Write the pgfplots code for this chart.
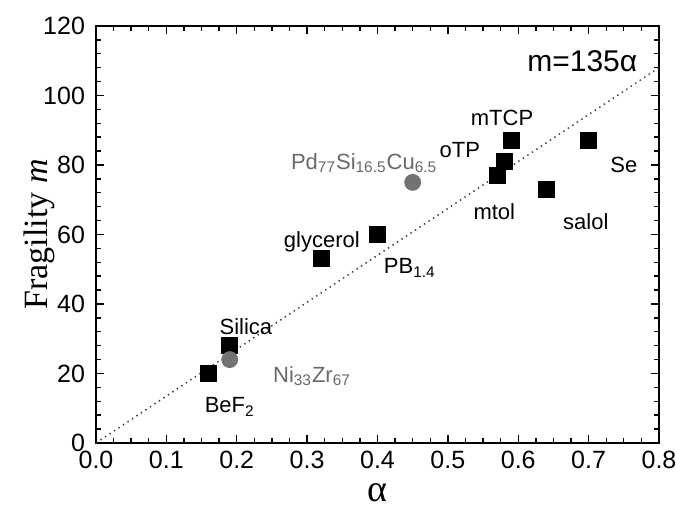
\documentclass[border=0pt]{standalone}
\usepackage{fontspec}
\setmainfont{Liberation Sans}
\newfontfamily\serif{Liberation Serif}
\usepackage{pgfplots}
\pgfplotsset{compat=1.18}

\definecolor{alloy}{RGB}{115,115,115}
\definecolor{alloytext}{RGB}{105,105,105}

\begin{document}
\begin{tikzpicture}
\path[use as bounding box] (-48pt,-32.5pt) rectangle (290.5pt,221.5pt);
\begin{axis}[
    scale only axis,
    width=281.5pt, height=208.5pt,
    xmin=0, xmax=0.8, ymin=0, ymax=120,
    xtick={0,0.1,...,0.8}, ytick={0,20,...,120},
    minor x tick num=3, minor y tick num=4,
    xticklabel style={yshift=-3pt, inner sep=1pt},
    x tick label style={/pgf/number format/fixed, /pgf/number format/fixed zerofill, /pgf/number format/precision=1},
    yticklabel style={xshift=-2pt},
    tick align=inside, tick pos=both,
    major tick length=4pt, minor tick length=2.5pt,
    axis line style={line width=0.8pt},
    every tick/.style={black, line width=0.7pt},
    tick label style={font=\fontsize{12.5}{14}\selectfont},
    /pgf/number format/assume math mode=true,
    ylabel={\serif\fontsize{17}{20}\selectfont Fragility \textit{m}},
    every axis y label/.style={at={(axis description cs:-0.1,0.5)}, anchor=center, rotate=90},
    clip=false,
]
% fit line m = 135 alpha
\addplot[dotted, line width=0.7pt, black!80] coordinates {(0,0) (0.8,108)};

% molecular and network glass formers
\addplot[only marks, mark=square*, mark size=4pt, black] coordinates {
    (0.16,20) (0.19,28) (0.32,53) (0.40,60) (0.57,77) (0.58,81)
    (0.59,87) (0.64,73) (0.70,87)
};

% metallic glasses
\addplot[only marks, mark=*, mark size=4pt, draw=alloy, fill=alloy] coordinates {
    (0.19,24) (0.45,75)
};

\begin{scope}[every node/.style={font=\fontsize{11}{13}\selectfont}]
\node at (axis cs:0.213,33.4) {Silica};
\node at (axis cs:0.190,10.4) {BeF\textsubscript{2}};
\node[text=alloytext] at (axis cs:0.307,19.3) {Ni\textsubscript{33}Zr\textsubscript{67}};
\node at (axis cs:0.321,57.8) {glycerol};
\node at (axis cs:0.446,50.4) {PB\textsubscript{1.4}};
\node[text=alloytext] at (axis cs:0.381,80.6) {Pd\textsubscript{77}Si\textsubscript{16.5}Cu\textsubscript{6.5}};
\node at (axis cs:0.517,84.3) {oTP};
\node at (axis cs:0.577,93.5) {mTCP};
\node at (axis cs:0.566,66.5) {mtol};
\node at (axis cs:0.696,63.6) {salol};
\node at (axis cs:0.750,80) {Se};
\end{scope}
\node[font=\fontsize{15}{17}\selectfont] at (axis cs:0.691,110) {m=135α};
% x axis label
\node[font=\serif\fontsize{19}{21}\selectfont, inner sep=0pt] at (axis description cs:0.5,-0.12) {α};
\end{axis}
\end{tikzpicture}
\end{document}
